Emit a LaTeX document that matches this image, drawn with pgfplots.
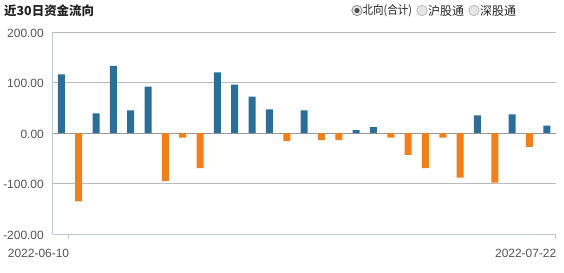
\documentclass[border=0pt]{standalone}
\usepackage{fontspec}
\setmainfont{Liberation Sans}
\newfontfamily\cjk{Noto Sans CJK SC}
\usepackage{graphicx}
\usepackage{pgfplots}
\pgfplotsset{compat=1.18}
\definecolor{barblue}{HTML}{2B6F99}
\definecolor{barorange}{HTML}{F0801E}
\definecolor{axblue}{HTML}{B8CCDD}
\definecolor{gridgray}{HTML}{BBBBBB}
\definecolor{zerogray}{HTML}{999999}
\definecolor{labgray}{HTML}{555555}
\definecolor{titlecol}{HTML}{222222}
\definecolor{radioline}{HTML}{909090}
\definecolor{radiofill}{HTML}{E6E6E6}
\definecolor{radiodot}{HTML}{505050}
\begin{document}
\begin{tikzpicture}
\begin{axis}[
  at={(52.7bp,38.7bp)}, anchor=south west,
  scale only axis, width=502.8bp, height=202.3bp,
  xmin=-0.5, xmax=28.5, ymin=-200, ymax=200,
  ytick={-200,-100,0,100,200},
  yticklabels={-200.00,-100.00,0.00,100.00,200.00},
  xtick={0.4,28.5}, xticklabels={2022-06-10,2022-07-22},
  yticklabel style={anchor=east, inner sep=0pt, xshift=-3.7bp, yshift=-1bp, font=\fontsize{12}{14}\selectfont, text=labgray},
  xticklabel style={anchor=north east, inner sep=0pt, xshift=1bp, yshift=-10bp, font=\fontsize{12}{14}\selectfont, text=labgray},
  tick align=outside, major tick length=5bp,
  ytick style={draw=none}, xtick style={draw=axblue, line width=0.8bp},
  axis x line*=bottom, axis y line*=left,
  axis line style={-, draw=axblue, line width=0.8bp},
  ymajorgrids, grid style={gridgray, line width=0.8bp},
  extra y ticks={0}, extra y tick labels={},
  extra y tick style={grid=major, major grid style={zerogray, line width=1bp}},
  ybar, bar width=7bp, bar shift=0pt,
]
\addplot[fill=barblue, draw=none] coordinates {
  (0,116) (2,39) (3,133) (4,45) (5,92) (9,120) (10,96) (11,72) (12,47)
  (14,45) (17,6) (18,12) (24,35) (26,37) (28,15)};
\addplot[fill=barorange, draw=none] coordinates {
  (1,-135) (6,-95) (7,-9) (8,-69) (13,-16) (15,-14) (16,-14) (19,-9)
  (20,-43) (21,-69) (22,-9) (23,-88) (25,-98) (27,-27)};
\end{axis}
\node[anchor=west, inner sep=0pt, font=\cjk\bfseries\fontsize{12.5}{14}\selectfont, text=titlecol] at (4bp,262bp) {近30日资金流向};
\draw[fill=radiofill, draw=radioline, line width=0.8bp] (357bp,262.5bp) circle (5.2bp);
\fill[radiodot] (357bp,262.5bp) circle (2.6bp);
\node[anchor=west, inner sep=0pt, font=\cjk\fontsize{12}{14}\selectfont, text=titlecol] at (362.5bp,262bp) {\scalebox{0.88}[1]{北向(合计)}};
\draw[fill=radiofill, draw=gridgray, line width=0.8bp] (422bp,262.5bp) circle (5.2bp);
\node[anchor=west, inner sep=0pt, font=\cjk\fontsize{12}{14}\selectfont, text=titlecol] at (428bp,262bp) {沪股通};
\draw[fill=radiofill, draw=gridgray, line width=0.8bp] (474bp,262.5bp) circle (5.2bp);
\node[anchor=west, inner sep=0pt, font=\cjk\fontsize{12}{14}\selectfont, text=titlecol] at (480bp,262bp) {深股通};
\pgfresetboundingbox
\useasboundingbox (0,0) rectangle (564bp,273bp);
\end{tikzpicture}
\end{document}
